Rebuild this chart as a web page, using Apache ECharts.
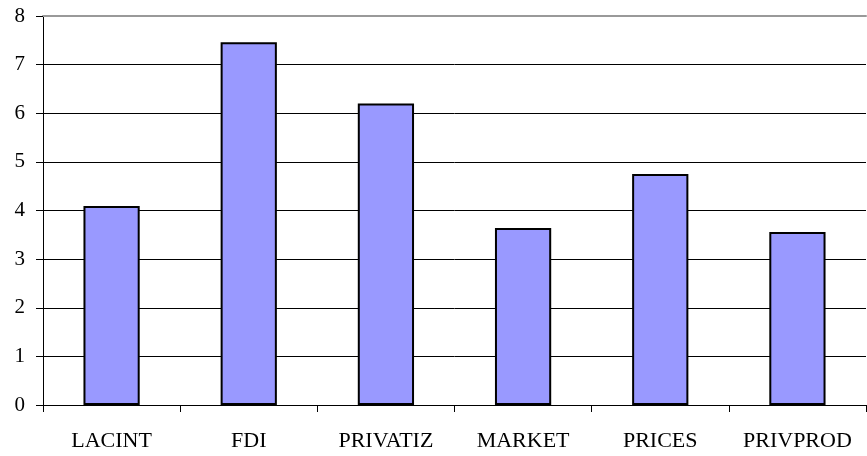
<!DOCTYPE html>
<html>
<head>
<meta charset="utf-8">
<script src="https://cdn.jsdelivr.net/npm/echarts@6/dist/echarts.min.js"></script>
<style>
  html, body { margin: 0; padding: 0; background: #fff; }
  #chart { width: 867px; height: 456px; }
</style>
</head>
<body>
<div id="chart"></div>
<script>
const categories = ['LACINT', 'FDI', 'PRIVATIZ', 'MARKET', 'PRICES', 'PRIVPROD']
const values = [4.09, 7.46, 6.2, 3.64, 4.75, 3.56]
const yMin = 0, yMax = 8, yStep = 1

const chart = echarts.init(document.getElementById('chart'))
const font = 'Liberation Serif, Times New Roman, serif'

chart.setOption({
  animation: false,
  grid: { left: 43, right: 1, top: 16, bottom: 51 },
  xAxis: [{
    type: 'category', data: categories,
    axisLine: { lineStyle: { color: '#000', width: 1 } },
    axisTick: { show: true, interval: 0, length: 7, lineStyle: { color: '#000' } },
    axisLabel: { interval: 0, hideOverlap: false, color: '#000', fontFamily: font, fontSize: 22, margin: 25 }
  }, {
    // grey top edge of the plot area
    type: 'category', data: categories, position: 'top',
    axisLine: { lineStyle: { color: '#999', width: 2 } },
    axisTick: { show: false }, axisLabel: { show: false }
  }],
  yAxis: {
    type: 'value', min: yMin, max: yMax, interval: yStep,
    axisLine: { show: true, lineStyle: { color: '#000', width: 1 } },
    axisTick: { show: true, length: 7, lineStyle: { color: '#000' } },
    axisLabel: { color: '#000', fontFamily: font, fontSize: 21, margin: 18 },
    splitLine: { lineStyle: { color: '#000', width: 1 } }
  },
  series: [{
    type: 'bar', data: values, barWidth: '41%',
    itemStyle: { color: '#9999FF', borderColor: '#000', borderWidth: 2 }
  }]
})
</script>
</body>
</html>
